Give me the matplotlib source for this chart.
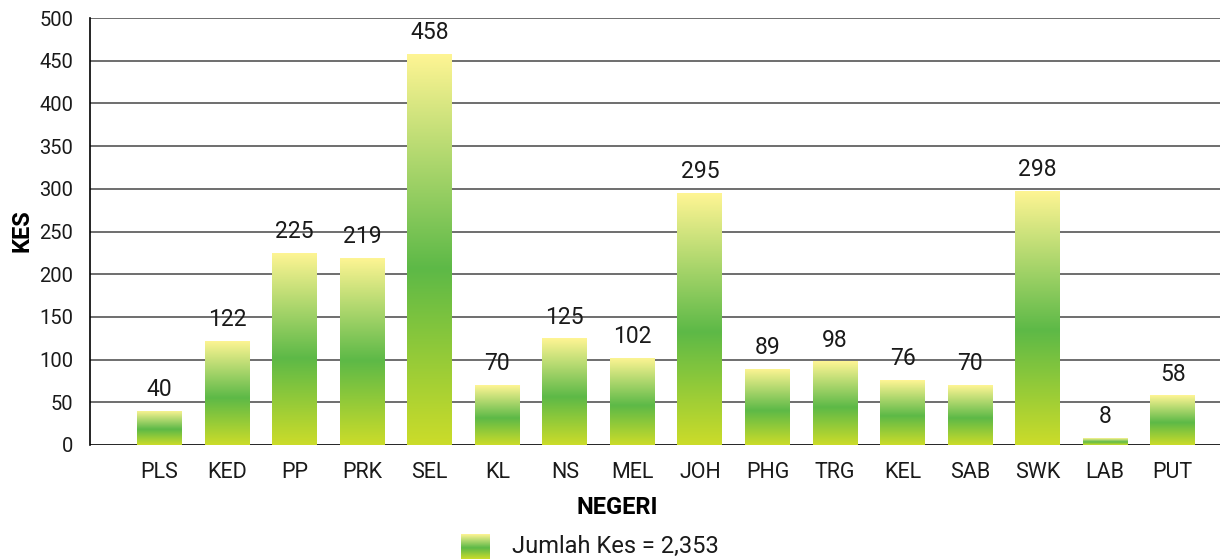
import matplotlib
matplotlib.use("Agg")
import matplotlib.pyplot as plt
import numpy as np
from matplotlib.colors import LinearSegmentedColormap
from matplotlib.patches import Rectangle

categories = ["PLS", "KED", "PP", "PRK", "SEL", "KL", "NS", "MEL", "JOH",
              "PHG", "TRG", "KEL", "SAB", "SWK", "LAB", "PUT"]
values = [40, 122, 225, 219, 458, 70, 125, 102, 295, 89, 98, 76, 70, 298, 8, 58]
yticks = [0, 50, 100, 150, 200, 250, 300, 350, 400, 450, 500]
legend_label = "Jumlah Kes = 2,353"

plt.rcParams['font.family'] = ['Roboto', 'DejaVu Sans']

cmap = LinearSegmentedColormap.from_list(
    "g", [(0.0, "#CBDC2A"), (0.45, "#5DB947"), (1.0, "#FFF594")])
grad = np.linspace(0, 1, 256).reshape(-1, 1)

fig = plt.figure(figsize=(12.2, 5.6), dpi=100)
ax = fig.add_axes([90/1220, 1-445/560, 1-90/1220, (445-18)/560])

xlim = (-1.03, 15.70)
ax.set_ylim(0, 500)
ax.set_xlim(*xlim)
for y in yticks:
    ax.axhline(y, color="#000000" if y == 0 else "#555555", lw=1.2, zorder=1)

width = 0.666
x = np.arange(len(categories))
for xi, v in zip(x, values):
    rect = Rectangle((xi - width/2, 0), width, v, facecolor="none", edgecolor="none")
    ax.add_patch(rect)
    im = ax.imshow(grad, cmap=cmap, origin="lower", aspect="auto",
                   extent=(xi - width/2, xi + width/2, 0, v), zorder=2,
                   interpolation="bilinear")
    im.set_clip_path(rect)
    ax.annotate(str(v), (xi, v), xytext=(0, 7), textcoords="offset points",
                ha="center", va="bottom", fontsize=16.5, color="#1a1a1a")

ax.set_xlim(*xlim)
ax.set_ylim(0, 500)
ax.set_xticks(x)
ax.set_xticklabels(categories, fontsize=15.5, color="#1a1a1a")
ax.set_yticks(yticks)
ax.set_yticklabels([str(t) for t in yticks], fontsize=14.5, color="#1a1a1a")
ax.tick_params(axis="both", length=0)
ax.tick_params(axis="x", pad=12)
ax.tick_params(axis="y", pad=12)
for s in ["top", "right", "bottom"]:
    ax.spines[s].set_visible(False)
ax.spines["left"].set_color("#000000")
ax.spines["left"].set_linewidth(1.2)

fig.text(22/1220, 1-231/560, "KES", rotation=90, ha="center", va="center",
         fontsize=17, fontweight="bold")
fig.text(617/1220, 1-508/560, "NEGERI", ha="center", va="center",
         fontsize=17, fontweight="bold")

lax = fig.add_axes([461/1220, 1-559/560, 29/1220, 25/560])
lax.imshow(grad, cmap=cmap, origin="lower", aspect="auto", interpolation="bilinear")
lax.axis("off")
fig.text(512/1220, 1-546/560, legend_label, ha="left", va="center",
         fontsize=17, color="#1a1a1a")

fig.savefig("out.png", dpi=100)
